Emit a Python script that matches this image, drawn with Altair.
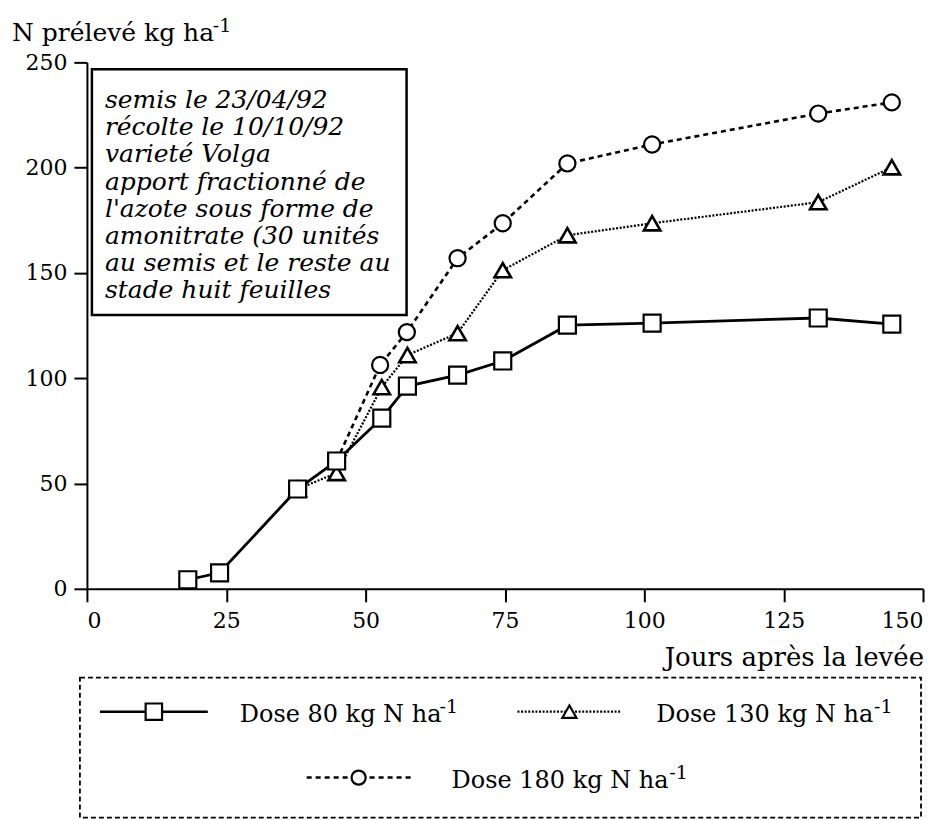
import altair as alt
import pandas as pd

# ---- data ----
days_80 = [18.1, 23.8, 37.8, 44.8, 52.9, 57.5, 66.5, 74.6, 86.2, 101.4, 131.2, 144.4]
n_80 = [4.3, 7.6, 47.4, 60.7, 81.1, 96.3, 101.5, 108.2, 125.2, 126.2, 128.6, 125.7]

days_130 = [37.8, 44.8, 52.9, 57.5, 66.5, 74.6, 86.2, 101.4, 131.2, 144.4]
n_130 = [47.4, 55.0, 95.8, 111.0, 121.4, 151.3, 167.9, 173.6, 183.6, 200.2]

days_180 = [44.8, 52.6, 57.4, 66.5, 74.6, 86.2, 101.4, 131.2, 144.4]
n_180 = [60.7, 106.3, 121.9, 157.0, 173.6, 202.0, 211.0, 225.7, 231.0]

x_ticks = [0, 25, 50, 75, 100, 125, 150]
y_ticks = [0, 50, 100, 150, 200, 250]

note_lines = [
    "semis le 23/04/92",
    "récolte le 10/10/92",
    "varieté  Volga",
    "apport fractionné de",
    "l'azote sous forme de",
    "amonitrate (30 unités",
    "au semis et le reste au",
    "stade huit feuilles",
]

legend_labels = ["Dose 80 kg N ha", "Dose 130 kg N ha", "Dose 180 kg N ha"]
y_title = "N prélevé kg ha"
x_title = "Jours après la levée"

SERIF = "DejaVu Serif"

df80 = pd.DataFrame({"day": days_80, "n": n_80})
df130 = pd.DataFrame({"day": days_130, "n": n_130})
df180 = pd.DataFrame({"day": days_180, "n": n_180})
one = pd.DataFrame({"k": [0]})

X = alt.X("day:Q", scale=alt.Scale(domain=[0, 150], nice=False, zero=True),
          axis=alt.Axis(values=x_ticks, title=None, labelPadding=9))
Y = alt.Y("n:Q", scale=alt.Scale(domain=[0, 250], nice=False, zero=True),
          axis=alt.Axis(values=y_ticks, title=None, labelPadding=7))

def line(df, dash, width):
    kw = dict(color="black", strokeWidth=width)
    if dash:
        kw["strokeDash"] = dash
    return alt.Chart(df).mark_line(**kw).encode(x=X, y=Y)

def pts(df, shape, size, sw=2.2):
    return alt.Chart(df).mark_point(shape=shape, size=size, filled=False, fill="white",
                                    fillOpacity=1, stroke="black", strokeWidth=sw,
                                    opacity=1).encode(x=X, y=Y)

layers = [
    line(df180, [5, 4], 2.6),
    line(df130, [2, 1.6], 2.2),
    line(df80, None, 2.8),
    pts(df180, "circle", 260),
    pts(df130, "triangle-up", 270, 2.6),
    pts(df80, "square", 290),
]

# ---- annotation box (one multi-line text) ----
layers.append(alt.Chart(one).mark_rect(fill="white", stroke="black", strokeWidth=2.5).encode(
    x=alt.value(5), x2=alt.value(320), y=alt.value(7), y2=alt.value(253)))
layers.append(alt.Chart(one).mark_text(align="left", baseline="middle", font=SERIF,
                                       fontStyle="italic", fontSize=25, lineHeight=27.1,
                                       color="black").encode(
    x=alt.value(18), y=alt.value(38), text=alt.value(note_lines)))

# ---- axis titles (with superscripts) ----
def txt(s, x, y, size, align="left", style="normal"):
    return alt.Chart(one).mark_text(align=align, baseline="middle", font=SERIF, fontSize=size,
                                    fontStyle=style, color="black").encode(
        x=alt.value(x), y=alt.value(y), text=alt.value(s))

layers.append(txt(y_title, -75, -29, 25))
layers.append(txt("-1", 126, -36, 19))
layers.append(txt(x_title, 838, 596, 26, align="right"))

# ---- legend ----
layers.append(alt.Chart(one).mark_rect(fill=None, stroke="black", strokeWidth=1.8,
                                       strokeDash=[5, 3]).encode(
    x=alt.value(-7), x2=alt.value(835), y=alt.value(616), y2=alt.value(756)))

leg_items = [
    # line x0, x1, symbol x, y, text x, superscript x, dash, width, shape, size
    (13, 121, 67, 650, 153, 353, None, 2.6, "square", 270),
    (431, 535, 483, 650, 570, 788, [2, 1.6], 2.2, "triangle-up", 200),
    (220, 325, 272, 716, 365, 583, [5, 4], 2.5, "circle", 200),
]
for (x0, x1, sx, ly, tx, supx, dash, w, shape, size), lab in zip(leg_items, legend_labels):
    kw = dict(color="black", strokeWidth=w)
    if dash:
        kw["strokeDash"] = dash
    layers.append(alt.Chart(one).mark_rule(**kw).encode(
        x=alt.value(x0), x2=alt.value(x1), y=alt.value(ly)))
    layers.append(alt.Chart(one).mark_point(shape=shape, size=size, filled=False, fill="white",
                                            fillOpacity=1, stroke="black", strokeWidth=2.2,
                                            opacity=1).encode(
        x=alt.value(sx), y=alt.value(ly)))
    layers.append(txt(lab, tx, ly + 3, 24))
    layers.append(txt("-1", supx, ly - 5, 19))

chart = alt.layer(*layers).properties(
    width=837, height=527,
    autosize=alt.AutoSizeParams(type="none"),
    padding={"left": 79, "top": 54, "right": 19, "bottom": 231},
    background="white",
).configure_view(stroke=None).configure_axis(
    grid=False, domainColor="black", domainWidth=2, tickColor="black", tickWidth=2,
    tickSize=13, labelFont=SERIF, labelFontSize=22, labelColor="black",
)

chart.save("out.html", embed_options={"renderer": "svg", "actions": False})
